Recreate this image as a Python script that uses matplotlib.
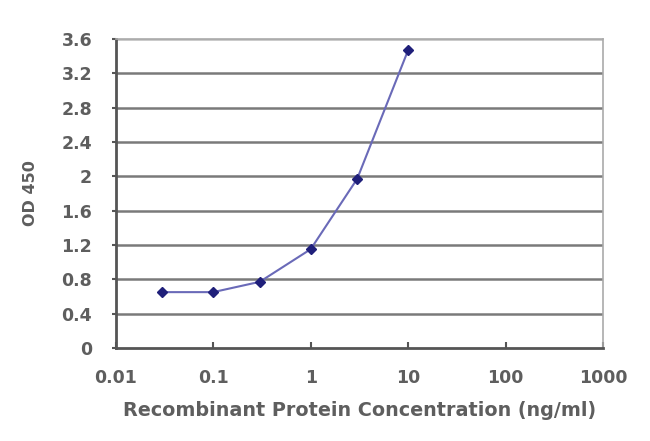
import matplotlib
matplotlib.use("Agg")
import matplotlib.pyplot as plt

conc = [0.03, 0.1, 0.3, 1, 3, 10]
od450 = [0.65, 0.65, 0.77, 1.15, 1.97, 3.47]
yticks = [0, 0.4, 0.8, 1.2, 1.6, 2, 2.4, 2.8, 3.2, 3.6]
ytick_labels = ["0", "0.4", "0.8", "1.2", "1.6", "2", "2.4", "2.8", "3.2", "3.6"]
xticks = [0.01, 0.1, 1, 10, 100, 1000]
xtick_labels = ["0.01", "0.1", "1", "10", "100", "1000"]

plt.rcParams['font.family'] = ['DejaVu Sans']
plt.rcParams['font.weight'] = 'bold'
txt = '#5e5e5e'
fs = 12.5

fig = plt.figure(figsize=(6.5, 4.41), dpi=100)
ax = fig.add_axes([0.178, 0.211, 0.75, 0.701])

for y in yticks[1:-1]:
    ax.axhline(y, color='#7a7a7a', linewidth=1.8, zorder=1)
ax.axhline(yticks[-1], color='#bbbbbb', linewidth=1.8, zorder=1)

ax.plot(conc, od450, color='#6a6ab8', linewidth=1.5, zorder=2)
ax.plot(conc, od450, linestyle='none', marker='D', markersize=5,
        color='#1f1f7a', zorder=3)

ax.set_xscale('log')
ax.set_xlim(0.01, 1000)
ax.set_ylim(0, 3.6)
ax.set_xticks(xticks)
ax.set_xticklabels(xtick_labels)
ax.minorticks_off()
ax.set_yticks(yticks)
ax.set_yticklabels(ytick_labels)

ax.tick_params(axis='y', direction='out', length=3, width=1.5, color='#555555',
               labelsize=fs, labelcolor=txt, pad=14)
ax.tick_params(axis='x', direction='in', length=4, width=1.5, color='#555555',
               labelsize=fs, labelcolor=txt, pad=15)

for side in ['left', 'bottom']:
    ax.spines[side].set_color('#555555')
    ax.spines[side].set_linewidth(2)
for side in ['right', 'top']:
    ax.spines[side].set_color('#aaaaaa')
    ax.spines[side].set_linewidth(1.2)

ax.set_xlabel('Recombinant Protein Concentration (ng/ml)', fontsize=13.8,
              fontweight='bold', color=txt, labelpad=10)
ax.set_ylabel('OD 450', fontsize=11.5, fontweight='bold', color=txt, labelpad=17)

fig.savefig('out.png', dpi=100)
